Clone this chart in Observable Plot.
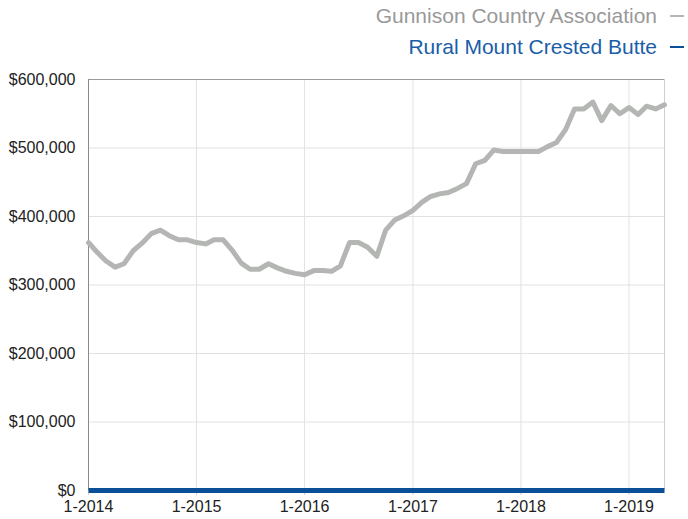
<!DOCTYPE html>
<html>
<head>
<meta charset="utf-8">
<script src="https://cdn.jsdelivr.net/npm/d3@7"></script>
<script src="https://cdn.jsdelivr.net/npm/@observablehq/plot@0.6"></script>
<style>
  html, body { margin: 0; padding: 0; background: #fff; }
  #wrap { width: 688px; height: 519px; position: relative; overflow: hidden; font-family: "Liberation Sans", Arial, sans-serif; }
  #legend { height: 60px; position: relative; }
  .lg { position: absolute; right: 4px; display: flex; align-items: center; font-size: 21px; white-space: nowrap; }
  .lg .dash { display: inline-block; width: 14px; height: 2px; margin-left: 13px; }
</style>
</head>
<body>
<div id="wrap">
  <div id="legend"></div>
  <div id="chart"></div>
</div>
<script>
// ---- data ----
const seriesNames = ["Gunnison Country Association", "Rural Mount Crested Butte"];
const seriesColors = ["#b4b6b4", "#0b4f99"];
const legendTextColors = ["#999999", "#1a5ea8"];
const startMonth = "2014-01-01";
const endMonth = "2019-05-01";
// Gunnison Country Association median price (thousands of $), monthly Jan 2014 – May 2019
const gunnison = [
  362, 347, 335, 326, 331, 350, 361, 375, 380, 372, 366, 366,
  362, 360, 366, 366, 351, 332, 323, 323, 331, 325, 320, 317,
  315, 321, 321, 320, 328, 362, 362, 355, 342, 380, 395, 401,
  409, 421, 429, 433, 435, 441, 448, 477, 482, 497, 495, 495,
  495, 495, 495, 502, 508, 527, 557, 557, 567, 540, 562, 550,
  559, 549, 561, 557, 563
];
// Rural Mount Crested Butte (thousands of $)
const rural = [
  0, 0, 0, 0, 0, 0, 0, 0, 0, 0, 0, 0,
  0, 0, 0, 0, 0, 0, 0, 0, 0, 0, 0, 0,
  0, 0, 0, 0, 0, 0, 0, 0, 0, 0, 0, 0,
  0, 0, 0, 0, 0, 0, 0, 0, 0, 0, 0, 0,
  0, 0, 0, 0, 0, 0, 0, 0, 0, 0, 0, 0,
  0, 0, 0, 0, 0
];
const yTicks = [0, 100000, 200000, 300000, 400000, 500000, 600000];

// ---- build ----
const start = new Date(startMonth + "T00:00:00Z");
const end = new Date(endMonth + "T00:00:00Z");
const months = d3.utcMonth.range(start, d3.utcMonth.offset(end, 1));
const rows = months.map((d, i) => ({date: d, value: gunnison[i] * 1000, series: seriesNames[0]}));
const rows2 = months.map((d, i) => ({date: d, value: rural[i] * 1000, series: seriesNames[1]}));

// legend
const legend = document.getElementById("legend");
seriesNames.forEach((name, i) => {
  const el = document.createElement("div");
  el.className = "lg";
  el.style.top = (i === 0 ? 4 : 35) + "px";
  el.style.color = legendTextColors[i];
  el.innerHTML = `<span>${name}</span><span class="dash" style="background:${seriesColors[i]}"></span>`;
  legend.appendChild(el);
});

const chart = Plot.plot({
  width: 688,
  height: 459,
  marginTop: 19,
  marginBottom: 29,
  marginLeft: 88,
  marginRight: 24,
  style: {fontFamily: "'Liberation Sans', Arial, sans-serif", fontSize: "16px", color: "#222", background: "#fff"},
  x: {type: "utc", domain: [start, end], label: null},
  y: {domain: [0, 600000], label: null},
  marks: [
    Plot.gridY(yTicks, {stroke: "#e2e2e2", strokeOpacity: 1}),
    Plot.gridX(d3.utcYear.range(start, end), {stroke: "#e2e2e2", strokeOpacity: 1}),
    Plot.ruleY([600000], {stroke: "#9a9a9a"}),
    Plot.ruleX([end], {stroke: "#cfcfcf"}),
    Plot.ruleX([start], {stroke: "#8a8a8a"}),
    Plot.axisY(yTicks, {tickSize: 0, tickPadding: 13, label: null, tickFormat: d => "$" + d3.format(",")(d), fill: "#222"}),
    Plot.axisX(d3.utcYear.range(start, end), {tickSize: 5, stroke: "#cfcfcf", tickPadding: 5, label: null, tickFormat: d3.utcFormat("%-m-%Y"), fill: "#222"}),
    Plot.line(rows, {x: "date", y: "value", stroke: seriesColors[0], strokeWidth: 5, strokeLinejoin: "round"}),
    Plot.line(rows2, {x: "date", y: "value", stroke: seriesColors[1], strokeWidth: 5, strokeLinecap: "butt"})
  ]
});
document.getElementById("chart").appendChild(chart);
</script>
</body>
</html>
